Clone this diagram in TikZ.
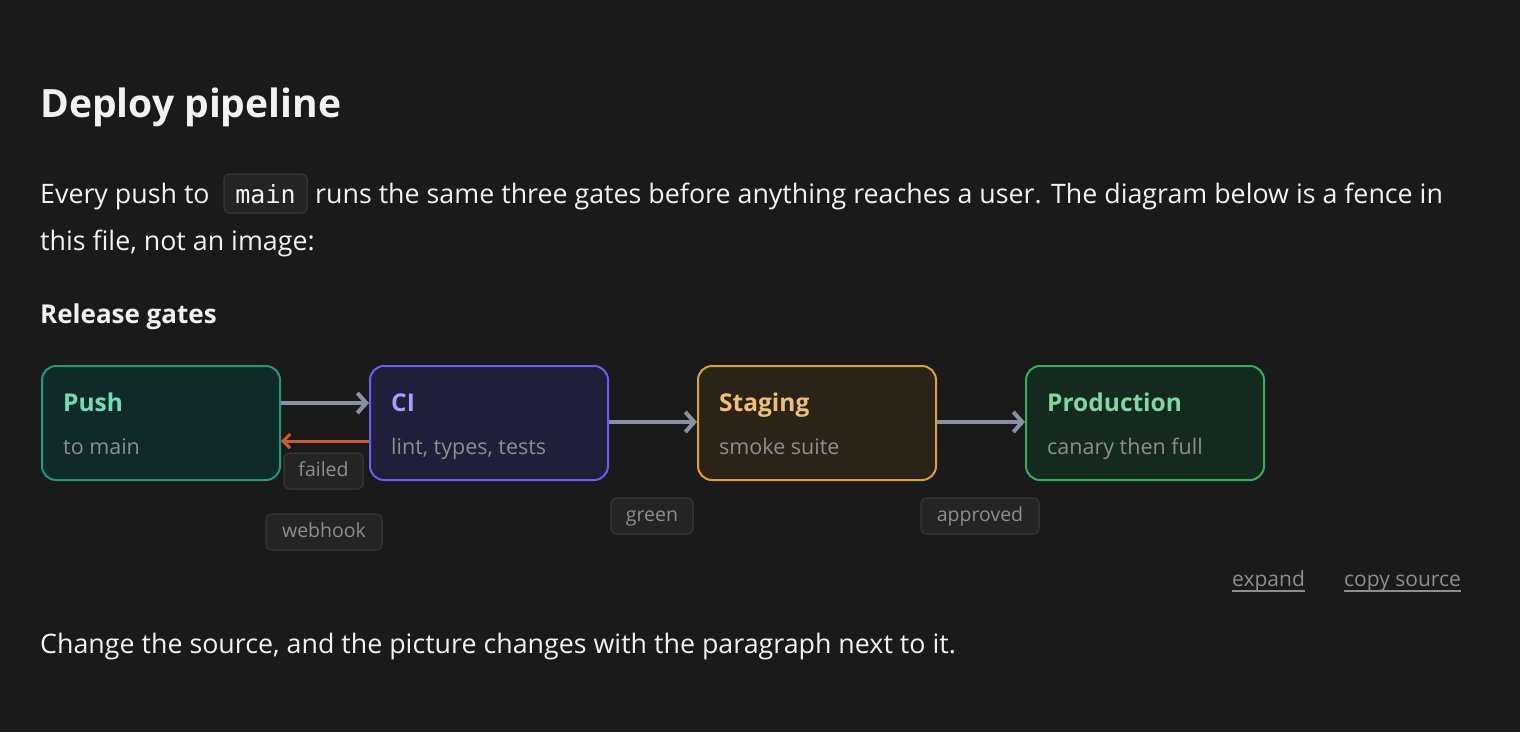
\documentclass[tikz,border=0pt]{standalone}
\usepackage{fontspec}
\setmainfont{Open Sans}
\setmonofont{DejaVu Sans Mono}
\usetikzlibrary{arrows.meta}
\definecolor{bg}{HTML}{1A1A1A}
\definecolor{fg}{HTML}{F2F2F2}
\definecolor{sub}{HTML}{8E8E8E}
\definecolor{arr}{HTML}{8A90A0}
\definecolor{red}{HTML}{D0582E}
\definecolor{pushF}{HTML}{102A29}\definecolor{pushB}{HTML}{1F9A77}\definecolor{pushT}{HTML}{6EE0B5}
\definecolor{ciF}{HTML}{1F1F3A}\definecolor{ciB}{HTML}{6A5CF5}\definecolor{ciT}{HTML}{A99CFF}
\definecolor{stF}{HTML}{2A2418}\definecolor{stB}{HTML}{E0A030}\definecolor{stT}{HTML}{F0C070}
\definecolor{prF}{HTML}{142A1E}\definecolor{prB}{HTML}{2FB060}\definecolor{prT}{HTML}{7ED8A0}
\definecolor{tagF}{HTML}{242424}\definecolor{tagB}{HTML}{333333}
\begin{document}
\begin{tikzpicture}[x=1pt,y=-1pt,
  box/.style={draw,line width=2pt,rounded corners=14pt,minimum width=238pt,minimum height=114pt,anchor=north west},
  ttl/.style={anchor=base west,font=\fontsize{24.5}{28}\selectfont\bfseries,inner sep=0pt},
  subt/.style={anchor=base west,text=sub,font=\fontsize{21.5}{25}\selectfont,inner sep=0pt},
  tag/.style={draw=tagB,fill=tagF,line width=1.5pt,rounded corners=6pt,text=sub,font=\fontsize{19.5}{23}\selectfont,inner sep=0pt,minimum height=36pt,text height=14pt,text depth=4pt},
  body/.style={anchor=base west,text=fg,font=\fontsize{26.8}{30}\selectfont,inner sep=0pt},
  flow/.style={draw=arr,line width=4pt,-{Straight Barb[length=9pt,width=20pt,line width=4pt]}},
  back/.style={draw=red,line width=3pt,-{Straight Barb[length=7pt,width=14pt,line width=3pt]}},
  link/.style={anchor=base west,text=sub,font=\fontsize{21}{24}\selectfont,inner sep=0pt}]
\fill[bg] (0,0) rectangle (1520,732);
\useasboundingbox (0,0) rectangle (1520,732);
\node[body,font=\fontsize{39}{44}\selectfont\bfseries] (h1) at (40,117) {Deploy pipeline};
\node[draw=tagB,fill=tagF,rounded corners=5pt,line width=1.5pt,minimum width=83pt,minimum height=39pt] (code) at (265.5,193.5) {};
\node[text=fg,font=\ttfamily\fontsize{25}{30}\selectfont,inner sep=0pt,anchor=base] (codet) at (265.5,203) {main};
\node[body] (p1a) at (40,203) {Every push to};
\node[body] (p1b) at (315,203) {runs the same three gates before anything reaches a user. The diagram below is a fence in};
\node[body] (p1c) at (40,250) {this file, not an image:};
\node[body,font=\fontsize{26}{30}\selectfont\bfseries] (h2) at (40,323) {Release gates};
\node[box,draw=pushB,fill=pushF] (push) at (41,365) {};
\node[box,draw=ciB,fill=ciF] (ci) at (369,365) {};
\node[box,draw=stB,fill=stF] (st) at (697,365) {};
\node[box,draw=prB,fill=prF] (pr) at (1025,365) {};
\node[ttl,text=pushT] (pusht) at (63,411) {Push};
\node[subt] (pushs) at (63,454) {to main};
\node[ttl,text=ciT] (cit) at (391,411) {CI};
\node[subt] (cis) at (391,454) {lint, types, tests};
\node[ttl,text=stT] (stt) at (719,411) {Staging};
\node[subt] (sts) at (719,454) {smoke suite};
\node[ttl,text=prT] (prt) at (1047,411) {Production};
\node[subt] (prs) at (1047,454) {canary then full};
\draw[flow] (push.east|-0,403) -- (ci.west|-0,403);
\draw[back] (ci.west|-0,441) -- (push.east|-0,441);
\draw[flow] (ci.east|-0,422) -- (st.west|-0,422);
\draw[flow] (st.east|-0,422) -- (pr.west|-0,422);
\node[tag,minimum width=79pt] (failed) at (323.5,471) {failed};
\node[tag,minimum width=116pt] (webhook) at (324,532) {webhook};
\node[tag,minimum width=82pt] (green) at (652,516) {green};
\node[tag,minimum width=118pt] (approved) at (980,516) {approved};
\node[link] (expand) at (1232,586) {expand};
\node[link] (copy) at (1344,586) {copy source};
\draw[sub,line width=1.2pt] (expand.base west)++(0,5) -- (expand.base east|-0,591);
\draw[sub,line width=1.2pt] (copy.base west)++(0,5) -- (copy.base east|-0,591);
\node[body] (p2) at (40,653) {Change the source, and the picture changes with the paragraph next to it.};
\end{tikzpicture}
\end{document}
